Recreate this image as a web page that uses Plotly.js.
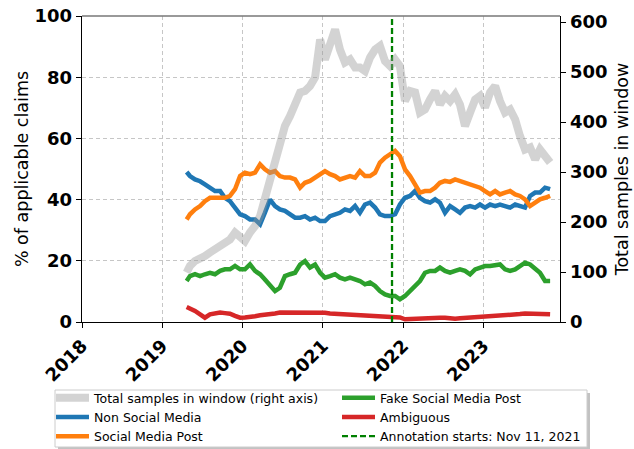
<!DOCTYPE html>
<html>
<head>
<meta charset="utf-8">
<script src="https://cdn.plot.ly/plotly-3.0.1.min.js"></script>
<style>html,body{margin:0;padding:0;background:#fff;}#chart{width:634px;height:449px;}</style>
</head>
<body>
<div id="chart"></div>
<script>
const dates = ["2019-04-22","2019-05-07","2019-05-30","2019-06-22","2019-07-14","2019-08-06","2019-08-29","2019-09-21","2019-10-13","2019-11-05","2019-11-28","2019-12-21",
"2020-01-12","2020-02-04","2020-02-27","2020-03-21","2020-04-12","2020-05-05","2020-05-28","2020-06-19","2020-07-12","2020-08-04","2020-08-27","2020-09-19","2020-10-11","2020-11-03","2020-11-26","2020-12-19",
"2021-01-10","2021-02-02","2021-02-25","2021-03-19","2021-04-11","2021-05-04","2021-05-27","2021-06-18","2021-07-11","2021-08-03","2021-08-26","2021-09-17","2021-10-10","2021-11-02","2021-11-25","2021-12-17",
"2022-01-09","2022-02-01","2022-02-24","2022-03-18","2022-04-10","2022-05-03","2022-05-26","2022-06-17","2022-07-10","2022-08-02","2022-08-25","2022-09-16","2022-10-09","2022-11-01","2022-11-24","2022-12-16",
"2023-01-08","2023-01-31","2023-02-23","2023-03-17","2023-04-09","2023-05-02","2023-05-25","2023-06-16","2023-07-09","2023-08-01","2023-08-24","2023-09-15","2023-10-08","2023-10-31"];

const totalSamples = [99,112,122,125,132,139,145,152,159,165,179,169,
162,179,192,212,245,285,325,359,392,412,432,459,462,472,489,565,
525,555,585,545,519,525,509,509,502,529,545,552,522,512,525,512,
442,462,459,419,425,445,462,435,452,442,455,435,392,419,445,452,
429,459,472,442,419,425,405,372,345,349,325,345,332,319];

const nonSocial = [49,47.7,46.6,46,45,44,42.8,42.8,40.6,39.5,37.4,35.2,
34.6,33.5,33.5,31.9,35.7,40,37.9,36.8,36.3,35.2,34.1,34.1,34.6,33.5,34.1,33,
33,34.6,35.2,35.7,36.8,36.3,37.9,35.7,38.4,39,37.4,35.2,34.6,34.6,35.2,38.4,
40.6,41.2,42.8,40.6,39.5,39,40.1,39,35.7,37.9,36.8,35.7,37.4,37.9,37.4,38.4,
37.4,38.4,37.9,38.4,37.9,37.4,38.4,37.9,37.4,41.2,42.3,42.3,43.9,43.4];

const socialPost = [33.5,35.2,36.8,37.9,39.5,40.6,40.6,40.6,40.6,41.2,43.4,47.7,
48.8,48.3,48.8,51.5,49.9,48.8,49.3,47.7,47.2,47.2,46.6,43.9,45.5,46.1,47.2,48.3,
49.3,48.3,47.7,46.6,47.2,47.7,47.2,49.3,47.7,47.7,48.8,52.1,53.7,54.8,55.9,54.2,
49.9,47.7,45,42.3,42.8,42.8,43.9,45.5,46.1,45.8,46.6,46.1,45.5,45,44.4,43.9,
42.8,41.7,42.8,41.7,42.3,42.8,41.7,41.2,40.1,37.9,39,40.1,40.6,41.2];

const fakePost = [13.4,15,15.6,15,15.6,16.1,15.6,16.7,17.2,17.2,18.3,17.2,
17.2,18.8,16.7,15.6,13.9,11.8,10.1,11.2,15,15.6,16.1,18.8,19.9,17.8,18.8,16.1,
14.5,15,15.6,14.5,13.9,14.5,13.9,13.4,12.3,12.9,11.8,10.1,9,8.5,8.5,7.4,
8.5,10.1,11.8,13.4,16.1,16.7,16.7,17.8,16.7,16.1,16.7,17.2,16.7,15.6,17.2,17.8,
18.3,18.3,18.5,18.8,17.2,16.7,17.2,18.3,19.4,18.8,17.2,16.1,13.4,13.4];

const ambiguous = [4.9,4.5,3.6,2.5,1.4,2.5,2.8,3.1,2.9,2.7,2.0,1.4,
1.5,1.6,1.9,2.2,2.3,2.5,2.8,3.1,3.1,3.1,3.3,3.1,3.1,3.1,3.2,3.1,
3.0,2.8,2.7,2.5,2.4,2.2,2.1,2.0,2.1,2.0,2.0,1.9,1.8,1.7,1.6,1.5,
0.9,1.0,1.2,1.3,1.4,1.4,1.3,1.4,1.4,1.2,1.1,1.2,1.3,1.4,1.4,1.5,
1.6,1.7,1.8,2.0,2.1,2.2,2.4,2.6,2.8,2.8,2.7,2.8,2.7,2.5];

const annotationDate = ["2021-11-11","2021-11-11"];
const annotationSpan = [0, 100];

const yearTicks = ["2018-01-01","2019-01-01","2020-01-01","2021-01-01","2022-01-01","2023-01-01"];
const yearLabels = ["2018","2019","2020","2021","2022","2023"];

const traces = [
  {x: dates, y: nonSocial, name: "Non Social Media", mode: "lines", line: {color: "#1f77b4", width: 4.5}, legend: "legend", legendrank: 2},
  {x: dates, y: socialPost, name: "Social Media Post", mode: "lines", line: {color: "#ff7f0e", width: 4.5}, legend: "legend", legendrank: 3},
  {x: dates, y: fakePost, name: "Fake Social Media Post", mode: "lines", line: {color: "#2ca02c", width: 4.5}, legend: "legend2", legendrank: 1},
  {x: dates, y: ambiguous, name: "Ambiguous", mode: "lines", line: {color: "#d62728", width: 4.5}, legend: "legend2", legendrank: 2},
  {x: annotationDate, y: annotationSpan, name: "Annotation starts: Nov 11, 2021", mode: "lines", line: {color: "#008000", width: 2.3, dash: "6px,3px"}, legend: "legend2", legendrank: 3},
  {x: dates, y: totalSamples, name: "Total samples in window (right axis)", mode: "lines", yaxis: "y2", line: {color: "rgba(150,150,150,0.42)", width: 8}, legend: "legend", legendrank: 1}
];

const tickFont = {family: "DejaVu Sans", size: 18, color: "#000", weight: "bold"};
const titleFont = {family: "DejaVu Sans", size: 17.5, color: "#000"};
const gridCol = "#c6c6c6";
const legendFont = {family: "DejaVu Sans", size: 12.5, color: "#000"};

// legend frame (pixels -> paper fractions of the 478x306 plot area at l=82, t=16)
const px = v => (v - 82) / 478;
const py = v => (322 - v) / 306;

const layout = {
  width: 634, height: 449,
  margin: {l: 82, r: 74, t: 16, b: 127},
  paper_bgcolor: "#fff", plot_bgcolor: "#fff",
  font: {family: "DejaVu Sans"},
  xaxis: {
    type: "date", range: ["2018-01-01", "2023-12-15"], automargin: false,
    tickvals: yearTicks, ticktext: yearLabels, tickangle: -45,
    tickfont: tickFont, ticks: "outside", ticklen: 5, tickcolor: "#000",
    showline: true, linecolor: "#000", linewidth: 1.3,
    showgrid: true, gridcolor: gridCol, griddash: "4px,3px", gridwidth: 1,
    zeroline: false
  },
  yaxis: {
    range: [0, 100], tickvals: [0,20,40,60,80,100], automargin: false,
    tickfont: tickFont, ticks: "outside", ticklen: 5, tickcolor: "#000",
    showline: true, linecolor: "#000", linewidth: 1.3,
    showgrid: true, gridcolor: gridCol, griddash: "4px,3px", gridwidth: 1,
    zeroline: false,
    title: {text: "% of applicable claims", font: titleFont, standoff: 1}
  },
  yaxis2: {
    overlaying: "y", side: "right", range: [0, 612], tickvals: [0,100,200,300,400,500,600], automargin: false,
    tickfont: tickFont, ticks: "outside", ticklen: 5, tickcolor: "#000",
    showline: true, linecolor: "#000", linewidth: 1.3, showgrid: false, zeroline: false,
    title: {text: "Total samples in window", font: titleFont, standoff: 9}
  },
  shapes: [
    {type: "line", xref: "paper", yref: "paper", x0: 0, x1: 1, y0: 1, y1: 1, line: {color: "#777", width: 1.3}},
    {type: "rect", xref: "paper", yref: "paper", x0: px(58), x1: px(590), y0: py(393), y1: py(449),
     fillcolor: "rgba(120,120,120,0.45)", line: {width: 0}},
    {type: "rect", xref: "paper", yref: "paper", x0: px(55), x1: px(587), y0: py(390), y1: py(447),
     fillcolor: "#ffffff", line: {color: "#cccccc", width: 1}}
  ],
  showlegend: true,
  legend: {
    orientation: "v", xref: "paper", yref: "container",
    x: px(51), xanchor: "left", y: 1 - 383/449, yanchor: "top", itemwidth: 33,
    font: legendFont, bgcolor: "rgba(0,0,0,0)", borderwidth: 0, traceorder: "normal"
  },
  legend2: {
    orientation: "v", xref: "paper", yref: "container",
    x: px(337), xanchor: "left", y: 1 - 383/449, yanchor: "top", itemwidth: 33,
    font: legendFont, bgcolor: "rgba(0,0,0,0)", borderwidth: 0, traceorder: "normal"
  }
};

Plotly.newPlot("chart", traces, layout, {displayModeBar: false, staticPlot: true});
</script>
</body>
</html>
